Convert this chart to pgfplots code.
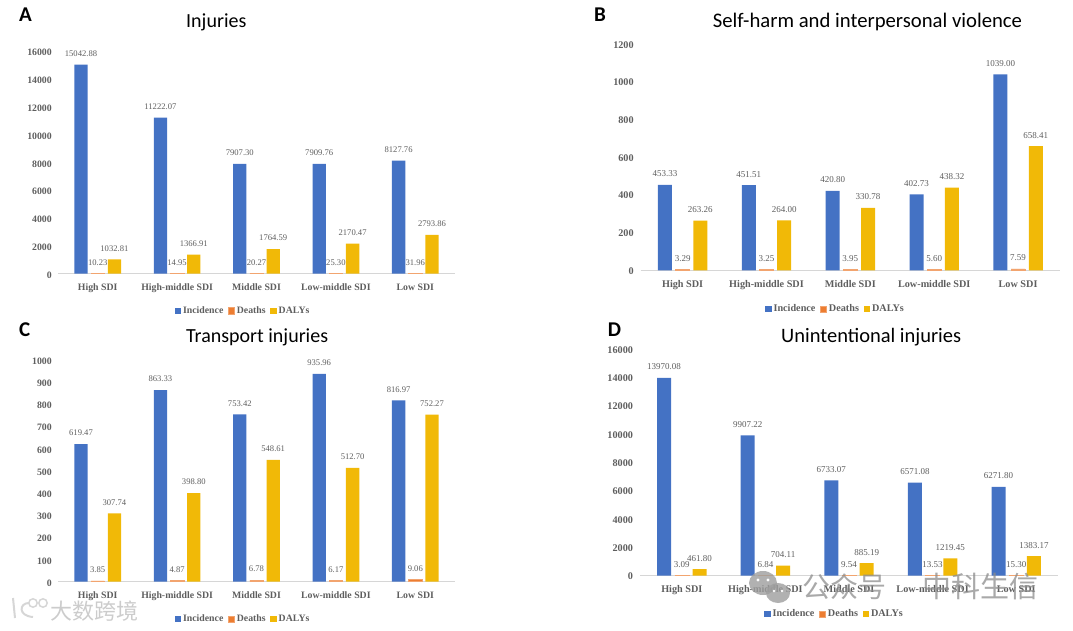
\documentclass[border=0pt]{standalone}
\usepackage{fontspec}
\usepackage{pgfplots}
\pgfplotsset{compat=1.18}
\setmainfont{Liberation Serif}
\newfontfamily\calibri{Carlito}
\newfontfamily\cjk{Noto Sans CJK SC}

\definecolor{cInc}{HTML}{4472C4}
\definecolor{cDea}{HTML}{ED7D31}
\definecolor{cDal}{HTML}{F1B907}
\definecolor{cTxt}{HTML}{5E5E5E}

\pgfplotsset{
  panel/.style={
    scale only axis,
    anchor=south west,
    ybar=#1,
    ymin=0,
    xmin=-0.5, xmax=4.5,
    xtick={0,1,2,3,4},
    xticklabels={High SDI,High-middle SDI,Middle SDI,Low-middle SDI,Low SDI},
    axis lines=left,
    axis line style={-},
    y axis line style={draw=none},
    x axis line style={draw=black!16, line width=0.7pt},
    major tick length=0pt,
    /pgf/number format/assume math mode=true,
    /pgf/number format/1000 sep={},
    scaled y ticks=false,
    xticklabel style={anchor=base, yshift=-16.7pt},
    nodes near coords={\pgfmathprintnumber[fixed,fixed zerofill,precision=2,1000 sep={},assume math mode=true]{\pgfplotspointmeta}},
    every node near coord/.append style={anchor=center, yshift=11pt, text=cTxt},
    legend columns=-1,
    legend cell align=left,
    legend style={draw=none, fill=none, anchor=center, inner sep=0pt,
      nodes={text height=7pt, text depth=2pt},
      /tikz/every even column/.append style={column sep=2.5pt}},
    legend image code/.code={\fill[##1] (0pt,-3pt) rectangle (6.5pt,3.5pt);},
  },
  left panel/.style={
    panel=3.4pt, bar width=13.3pt,
    tick label style={font=\fontsize{9.8}{10}\selectfont\bfseries, text=cTxt},
    yticklabel style={anchor=east, xshift=-2.7pt, yshift=-1.3pt},
    legend style={font=\fontsize{9.8}{10}\selectfont\bfseries, text=cTxt},
    every node near coord/.append style={font=\fontsize{8.6}{9}\selectfont},
  },
  right panel/.style={
    panel=3.7pt, bar width=14pt,
    tick label style={font=\fontsize{10.2}{10}\selectfont\bfseries, text=cTxt},
    yticklabel style={anchor=east, xshift=-3.5pt, yshift=-0.8pt},
    legend style={font=\fontsize{10.2}{10}\selectfont\bfseries, text=cTxt},
    every node near coord/.append style={font=\fontsize{9}{9}\selectfont},
  },
  inc/.style={fill=cInc, draw=none},
  dea/.style={fill=cDea, draw=cDea!70, line width=0.5pt},
  dal/.style={fill=cDal, draw=none},
}

\begin{document}
\begin{tikzpicture}[x=1pt,y=1pt]
\path[use as bounding box] (0,0) rectangle (1073,630);

% A
\begin{axis}[left panel, at={(58pt,356.3pt)}, width=397pt, height=222.4pt, ymax=16000,
  ytick={0,2000,...,16000},
  legend style={at={(axis description cs:0.466,0)}, yshift=-37.3pt}]
\addplot[inc] coordinates {(0,15042.88) (1,11222.07) (2,7907.30) (3,7909.76) (4,8127.76)};
\addplot[dea] coordinates {(0,10.23) (1,14.95) (2,20.27) (3,25.30) (4,31.96)};
\addplot[dal] coordinates {(0,1032.81) (1,1366.91) (2,1764.59) (3,2170.47) (4,2793.86)};
\legend{Incidence,Deaths,DALYs}
\end{axis}

% B
\begin{axis}[right panel, at={(640.7pt,359.7pt)}, width=419.3pt, height=226.4pt, ymax=1200,
  ytick={0,200,...,1200},
  legend style={at={(axis description cs:0.4646,0)}, yshift=-39pt}]
\addplot[inc] coordinates {(0,453.33) (1,451.51) (2,420.80) (3,402.73) (4,1039.00)};
\addplot[dea] coordinates {(0,3.29) (1,3.25) (2,3.95) (3,5.60) (4,7.59)};
\addplot[dal] coordinates {(0,263.26) (1,264.00) (2,330.78) (3,438.32) (4,658.41)};
\legend{Incidence,Deaths,DALYs}
\end{axis}

% C
\begin{axis}[left panel, at={(58pt,48.3pt)}, width=397pt, height=222pt, ymax=1000,
  ytick={0,100,...,1000},
  legend style={at={(axis description cs:0.466,0)}, yshift=-37.6pt}]
\addplot[inc] coordinates {(0,619.47) (1,863.33) (2,753.42) (3,935.96) (4,816.97)};
\addplot[dea] coordinates {(0,3.85) (1,4.87) (2,6.78) (3,6.17) (4,9.06)};
\addplot[dal] coordinates {(0,307.74) (1,398.80) (2,548.61) (3,512.70) (4,752.27)};
\legend{Incidence,Deaths,DALYs}
\end{axis}

% D
\begin{axis}[right panel, at={(640pt,54.3pt)}, width=418pt, height=226.7pt, ymax=16000,
  ytick={0,2000,...,16000},
  legend style={at={(axis description cs:0.4653,0)}, yshift=-38.6pt}]
\addplot[inc] coordinates {(0,13970.08) (1,9907.22) (2,6733.07) (3,6571.08) (4,6271.80)};
\addplot[dea] coordinates {(0,3.09) (1,6.84) (2,9.54) (3,13.53) (4,15.30)};
\addplot[dal] coordinates {(0,461.80) (1,704.11) (2,885.19) (3,1219.45) (4,1383.17)};
\legend{Incidence,Deaths,DALYs}
\end{axis}

% panel letters and titles
\tikzset{ttl/.style={anchor=west, inner sep=0pt, font=\calibri\fontsize{#1}{22}\selectfont},
         let/.style={anchor=west, inner sep=0pt, font=\calibri\bfseries\fontsize{21}{22}\selectfont}}
\node[let] at (19,615.3) {A};
\node[let] at (594,615) {B};
\node[let] at (19,300.3) {C};
\node[let] at (607.7,300) {D};
\node[ttl=20] at (186,608) {Injuries};
\node[ttl=20.7] at (712.7,608) {Self-harm and interpersonal violence};
\node[ttl=20] at (186,293) {Transport injuries};
\node[ttl=20.5] at (781,293) {Unintentional injuries};

% watermarks on top of the picture
\fill[black!38, opacity=.8] (763,47) ellipse (14 and 12);
\fill[black!38, opacity=.8] (778,37) ellipse (12 and 10);
\fill[white] (758,50) circle (1.6) (768,50) circle (1.6) (774,39) circle (1.3) (782,39) circle (1.3);
\node[anchor=west, inner sep=0pt, text=black!45, opacity=.75, font=\cjk\fontsize{28}{28}\selectfont] at (802,43) {公众号};
\node[anchor=west, inner sep=0pt, text=black!45, opacity=.75, font=\cjk\fontsize{29}{29}\selectfont] at (922,43) {中科生信};
\node[anchor=west, inner sep=0pt, text=black!20, font=\cjk\fontsize{22}{22}\selectfont] at (50,19) {大数跨境};
\draw[black!16, line width=2pt] (13,32) -- (15,12);
\draw[black!16, line width=2pt] (29,27) .. controls (19,27) and (18,14) .. (33,13);
\draw[black!16, line width=1.5pt] (33,27) circle (4.2) (43,27) circle (4.2);
\end{tikzpicture}
\end{document}
